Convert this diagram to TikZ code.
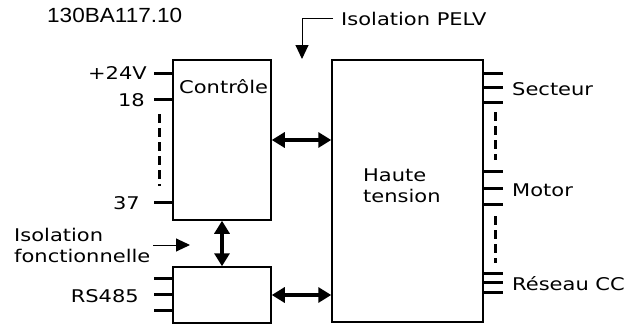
\documentclass[tikz,border=0pt]{standalone}
\usepackage{fontspec}
\setmainfont{DejaVu Sans}[FakeStretch=1.2]
\newfontfamily\codefont{Liberation Sans}[FakeStretch=1.1]
\usetikzlibrary{arrows.meta,calc}
\begin{document}
\begin{tikzpicture}[x=1pt,y=-1pt]
\tikzset{
  box/.style={draw, line width=1.5pt, inner sep=0pt},
  lbl/.style={inner sep=0pt, font=\fontsize{17.5}{21}\selectfont},
  pinline/.style={line width=3pt},
  dashpin/.style={line width=3pt, dash pattern=on 9pt off 5pt},
  dbl/.style={line width=4pt, {Triangle[length=13pt,width=15pt]}-{Triangle[length=13pt,width=15pt]}},
  thinarrow/.style={line width=1pt, -{Triangle[length=14pt,width=13pt]}}}
\useasboundingbox (0,0) rectangle (627,324);
\node[inner sep=0pt, anchor=base west] (reftxt) at (47,22) {\fontsize{20.5}{24}\selectfont\codefont 130BA117.10};
% boxes
\node[box, minimum width=98pt, minimum height=160pt] (ctrl) at (222,140) {};
\node[box, minimum width=98pt, minimum height=56pt] (rs) at (222,295) {};
\node[box, minimum width=151pt, minimum height=262pt] (ht) at (407.5,191) {};
% texts
\node[lbl, anchor=base west] (lctl) at (179,93) {Contrôle};
\node[lbl, anchor=north west, align=left] (lht) at (363,169) {Haute\\tension};
\node[lbl, anchor=base east] (l24) at (147,79) {+24V};
\node[lbl, anchor=base east] (l18) at (145,106) {18};
\node[lbl, anchor=base east] (l37) at (140,209) {37};
\node[lbl, anchor=base east] (lrs) at (139,302) {RS485};
\node[lbl, anchor=base west] (lsec) at (512,95) {Secteur};
\node[lbl, anchor=base west] (lmot) at (512,196) {Motor};
\node[lbl, anchor=base west] (lres) at (512,290) {Réseau CC};
\node[lbl, anchor=north west, align=left] (liso) at (14,228) {Isolation\\fonctionnelle};
\node[lbl, anchor=base west] (lpelv) at (341,25) {Isolation PELV};
% left pins of Contrôle
\foreach \d in {14,40,143} \draw[pinline] ($(ctrl.north west)+(0,\d)$) -- ++(-18,0);
\draw[dashpin] ($(ctrl.north west)+(-13,55)$) -- ++(0,72);
% RS485 pins
\foreach \d in {12,28,44} \draw[pinline] ($(rs.north west)+(0,\d)$) -- ++(-18,0);
% right pins of Haute tension
\foreach \d in {14,28,43,112,129,145,214,223,233} \draw[pinline] ($(ht.north east)+(0,\d)$) -- ++(19,0);
\draw[dashpin] ($(ht.north east)+(12,53)$) -- ++(0,48);
\draw[dashpin] ($(ht.north east)+(12,157)$) -- ++(0,47);
% connectors
\draw[dbl] (ctrl.east) -- (ctrl.east -| ht.west);
\draw[dbl] (rs.east) -- (rs.east -| ht.west);
\draw[dbl] (ctrl.south) -- (rs.north);
\coordinate (pelvtip) at (302,59);
\draw[thinarrow] ([xshift=-8pt]lpelv.west) -| (pelvtip);
\coordinate (fa) at (153,245);
\coordinate (fb) at (190,245);
\draw[thinarrow] (fa) -- (fb);
\end{tikzpicture}
\end{document}
